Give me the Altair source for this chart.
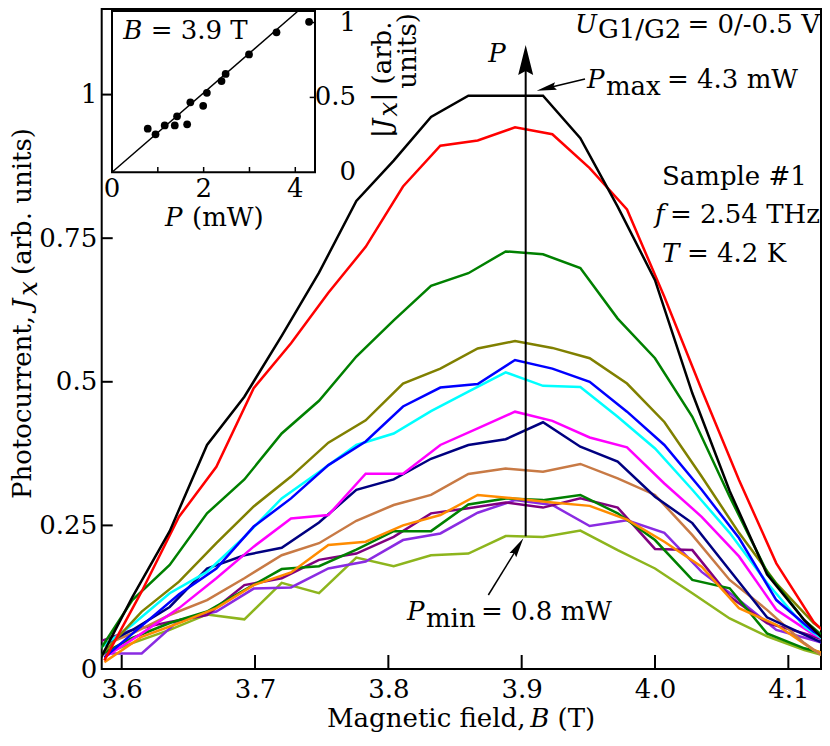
import altair as alt
import pandas as pd

FONT = "DejaVu Serif"
FS = 26

# ---------------- data ----------------
GRID_A = [3.580, 3.608, 3.636, 3.664, 3.692, 3.720, 3.748, 3.776, 3.804, 3.832, 3.860,
          3.888, 3.916, 3.944, 3.972, 4.000, 4.028, 4.056, 4.084, 4.112, 4.140]
GRID_B = [3.587, 3.615, 3.643, 3.671, 3.699, 3.727, 3.755, 3.783, 3.811, 3.839, 3.867,
          3.895, 3.923, 3.951, 3.979, 4.007, 4.035, 4.063, 4.091, 4.119, 4.147]

J_YGREEN = [0.02, 0.045, 0.068, 0.095, 0.0865, 0.15, 0.132, 0.194, 0.179, 0.198, 0.201, 0.2315, 0.23, 0.241, 0.207, 0.175, 0.132, 0.088, 0.057, 0.033, 0.015]
J_VIOLET = [0.027, 0.027, 0.085, 0.1, 0.14, 0.142, 0.175, 0.187, 0.2245, 0.236, 0.272, 0.294, 0.2855, 0.249, 0.259, 0.237, 0.169, 0.12, 0.068, 0.05, 0.03]
J_PURPLE = [0.045, 0.068, 0.082, 0.094, 0.146, 0.158, 0.19, 0.201, 0.23, 0.271, 0.28, 0.29, 0.281, 0.297, 0.281, 0.209, 0.207, 0.126, 0.08, 0.062, 0.04]
J_GREEN2 = [0.02, 0.054, 0.08, 0.10, 0.1375, 0.174, 0.179, 0.208, 0.24, 0.24, 0.2865, 0.297, 0.294, 0.303, 0.271, 0.2245, 0.155, 0.1405, 0.062, 0.036, 0.02]
J_ORANGE = [0.012, 0.056, 0.08, 0.106, 0.146, 0.168, 0.216, 0.2215, 0.25, 0.268, 0.303, 0.297, 0.29, 0.284, 0.26, 0.2215, 0.178, 0.106, 0.077, 0.033, 0.01]
J_BROWN = [0.035, 0.062, 0.094, 0.12, 0.158, 0.198, 0.219, 0.258, 0.2855, 0.303, 0.3395, 0.349, 0.3435, 0.357, 0.332, 0.303, 0.233, 0.155, 0.103, 0.045, 0.0]
J_NAVY = [0.035, 0.068, 0.108, 0.175, 0.198, 0.211, 0.255, 0.312, 0.33, 0.366, 0.39, 0.40, 0.4295, 0.387, 0.361, 0.30, 0.254, 0.172, 0.09, 0.06, 0.03]
J_MAGENTA = [0.02, 0.062, 0.106, 0.158, 0.213, 0.262, 0.268, 0.34, 0.34, 0.39, 0.419, 0.448, 0.432, 0.403, 0.386, 0.323, 0.265, 0.196, 0.103, 0.06, 0.03]
J_CYAN = [0.03, 0.077, 0.132, 0.169, 0.23, 0.297, 0.343, 0.39, 0.41, 0.449, 0.483, 0.5165, 0.493, 0.491, 0.439, 0.384, 0.312, 0.237, 0.15, 0.074, 0.03]
J_BLUE = [0.02, 0.075, 0.13, 0.175, 0.248, 0.297, 0.355, 0.396, 0.457, 0.49, 0.496, 0.538, 0.523, 0.50, 0.448, 0.39, 0.312, 0.228, 0.12, 0.065, 0.03]
J_OLIVE = [0.03, 0.10, 0.152, 0.219, 0.283, 0.335, 0.394, 0.433, 0.497, 0.523, 0.558, 0.571, 0.559, 0.541, 0.497, 0.43, 0.335, 0.237, 0.149, 0.08, 0.03]
J_GREEN = [0.02, 0.12, 0.181, 0.271, 0.33, 0.41, 0.467, 0.544, 0.607, 0.667, 0.689, 0.727, 0.722, 0.698, 0.61, 0.541, 0.439, 0.30, 0.169, 0.085, 0.03]
J_RED = [0.015, 0.135, 0.265, 0.352, 0.489, 0.567, 0.655, 0.735, 0.84, 0.911, 0.92, 0.943, 0.931, 0.872, 0.80, 0.648, 0.486, 0.329, 0.184, 0.082, 0.02]
J_BLACK = [0.0, 0.125, 0.24, 0.39, 0.474, 0.58, 0.69, 0.815, 0.885, 0.961, 0.998, 0.998, 0.998, 0.924, 0.805, 0.677, 0.48, 0.31, 0.165, 0.085, 0.02]

SERIES = ["ygreen", "violet", "purple", "green2", "orange", "brown", "navy",
          "magenta", "cyan", "blue", "olive", "green", "red", "black"]
COLORS = ["#8db51d", "#8a2be2", "#800080", "#008000", "#ff8c00", "#c87a45", "#000080",
          "#ff00ff", "#00ffff", "#0000ff", "#808000", "#008000", "#ff0000", "#000000"]
GRIDS = [GRID_A, GRID_B, GRID_A, GRID_A, GRID_B, GRID_A, GRID_A,
         GRID_B, GRID_A, GRID_B, GRID_B, GRID_A, GRID_B, GRID_A]
VALUES = [J_YGREEN, J_VIOLET, J_PURPLE, J_GREEN2, J_ORANGE, J_BROWN, J_NAVY,
          J_MAGENTA, J_CYAN, J_BLUE, J_OLIVE, J_GREEN, J_RED, J_BLACK]

X_TICKS = [3.6, 3.7, 3.8, 3.9, 4.0, 4.1]
Y_TICKS = [0, 0.25, 0.5, 0.75, 1]

# inset data
P_INSET = [0.78, 0.95, 1.15, 1.37, 1.42, 1.64, 1.71, 1.99, 2.07, 2.39, 2.48, 2.99, 3.59, 4.30]
J_INSET = [0.291, 0.254, 0.313, 0.313, 0.374, 0.32, 0.467, 0.444, 0.531, 0.609, 0.657, 0.787, 0.935, 1.005]
FIT_P = [0.0, 4.06]
FIT_J = [0.0, 1.077]
INSET_X_TICKS = [0, 2, 4]
INSET_Y_TICKS = [0, 0.5, 1]

rows = []
for name, grid, vals in zip(SERIES, GRIDS, VALUES):
    for b, j in zip(grid, vals):
        rows.append({"series": name, "B": b, "J": j})
df = pd.DataFrame(rows)

# ---------------- layout ----------------
W, H = 719.3, 660
xs = alt.Scale(domain=[3.585, 4.1245], nice=False, zero=False)
ys = alt.Scale(domain=[0, 1.149], nice=False, zero=False)

lines = alt.Chart(df).mark_line(strokeWidth=2.5, clip=True).encode(
    x=alt.X("B:Q", scale=xs, axis=alt.Axis(values=X_TICKS, format=".1f", title=None,
            ticks=False, domain=False, grid=False, labelFont=FONT, labelFontSize=FS,
            labelColor="black", labelPadding=7)),
    y=alt.Y("J:Q", scale=ys, axis=alt.Axis(values=Y_TICKS, labelExpr="'' + datum.value",
            title=None, ticks=False, domain=False, grid=False, labelFont=FONT,
            labelFontSize=FS, labelColor="black", labelPadding=5)),
    color=alt.Color("series:N", scale=alt.Scale(domain=SERIES, range=COLORS), legend=None),
    detail="series:N",
)

xt = alt.Chart(pd.DataFrame({"B": X_TICKS})).mark_rule(strokeWidth=2, color="black").encode(
    x=alt.X("B:Q", scale=xs), y=alt.value(H), y2=alt.value(H - 14))
yt = alt.Chart(pd.DataFrame({"J": Y_TICKS[1:]})).mark_rule(strokeWidth=2, color="black").encode(
    y=alt.Y("J:Q", scale=ys), x=alt.value(0), x2=alt.value(11))

# arrows
vert = alt.Chart(pd.DataFrame({"B": [3.903], "J1": [0.231], "J2": [1.045]})).mark_rule(
    strokeWidth=2, color="black").encode(x=alt.X("B:Q", scale=xs), y=alt.Y("J1:Q", scale=ys), y2="J2:Q")
slant = alt.Chart(pd.DataFrame({"B1": [3.9475, 3.875], "J1": [1.0272, 0.1288],
                                "B2": [3.9209, 3.896], "J2": [1.0122, 0.2079]})).mark_rule(
    strokeWidth=1.5, color="black").encode(x=alt.X("B1:Q", scale=xs), x2="B2:Q",
                                           y=alt.Y("J1:Q", scale=ys), y2="J2:Q")
HEAD_BIG = "M0,-1L0.375,0.5L0,0.3L-0.375,0.5Z"
HEAD_SMALL = "M0,-1L0.3,0.5L0,0.3L-0.3,0.5Z"
head1 = alt.Chart(pd.DataFrame({"B": [3.903], "J": [1.0515]})).mark_point(
    shape=HEAD_BIG, filled=True, size=1600, color="black", opacity=1).encode(
    x=alt.X("B:Q", scale=xs), y=alt.Y("J:Q", scale=ys))
head2 = alt.Chart(pd.DataFrame({"B": [3.9209, 3.896], "J": [1.0122, 0.2079], "ang": [256, 32]})).mark_point(
    shape=HEAD_SMALL, filled=True, size=700, color="black", opacity=1).encode(
    x=alt.X("B:Q", scale=xs), y=alt.Y("J:Q", scale=ys), angle=alt.Angle("ang:Q", scale=None))


def dtext(rows_, align="left", italic=False, baseline="alphabetic"):
    d = pd.DataFrame(rows_, columns=["B", "J", "t"])
    return alt.Chart(d).mark_text(font=FONT, fontSize=FS, align=align, baseline=baseline,
                                  fontStyle="italic" if italic else "normal", color="black").encode(
        x=alt.X("B:Q", scale=xs), y=alt.Y("J:Q", scale=ys), text="t:N")


t_norm = dtext([(4.009, 1.0115, "= 4.3 mW"), (3.9632, 0.9993, "max"),
                (3.9572, 1.0985, "G1/G2"), (4.0052, 0.8426, "Sample #1"),
                (3.8282, 0.0731, "min"), (3.8695, 0.0853, "= 0.8 mW"),
                (4.0112, 0.776, "= 2.54 THz"), (4.024, 0.708, "= 4.2 K")])
t_right = dtext([(4.1237, 1.1072, "= 0/-0.5 V")], align="right")
t_ital = dtext([(3.940, 1.1072, "U"), (3.949, 1.0115, "P"), (4.0, 0.776, "f"),
                (4.0052, 0.708, "T"), (3.814, 0.0853, "P")], italic=True)
t_ital_c = dtext([(3.8815, 1.0568, "P")], italic=True, align="center")


def ptext(t, x, y, align="left", italic=False, angle=0, baseline="alphabetic", size=FS, font=FONT):
    return alt.Chart(pd.DataFrame({"t": [t]})).mark_text(
        font=font, fontSize=size, align=align, baseline=baseline, angle=angle,
        fontStyle="italic" if italic else "normal", color="black").encode(
        x=alt.value(x), y=alt.value(y), text="t:N")


# axis titles (positions in plot pixels)
xtitle = [ptext("Magnetic field,", 225.3, 718),
          ptext("B", 428.6, 718, italic=True),
          ptext("(T)", 455.9, 718)]
ytitle = [ptext("Photocurrent,", -79, 490, angle=270, baseline="middle"),
          ptext("J", -79, 300, angle=270, baseline="middle", italic=True),
          ptext("x", -73, 286.7, angle=270, baseline="middle", italic=True),
          ptext("(arb. units)", -79, 119, angle=270, baseline="middle", align="right")]

main = alt.layer(lines, xt, yt, vert, slant, head1, head2, t_norm, t_right, t_ital, t_ital_c,
                 *xtitle, *ytitle)

# ---------------- inset ----------------
isx = alt.Scale(domain=[0, 4.43], range=[10.3, 213.3], nice=False, zero=False)
isy = alt.Scale(domain=[0, 1.077], range=[163.3, 2], nice=False, zero=False)
NOAX = None

frame = alt.Chart(pd.DataFrame({"P0": [0], "P1": [4.43], "J0": [0], "J1": [1.077]})).mark_rect(
    fill="white", stroke="black", strokeWidth=2).encode(
    x=alt.X("P0:Q", scale=isx, axis=NOAX), x2="P1:Q",
    y=alt.Y("J0:Q", scale=isy, axis=NOAX), y2="J1:Q")
fit = alt.Chart(pd.DataFrame({"P": FIT_P, "J": FIT_J})).mark_line(strokeWidth=1.5, color="black").encode(
    x=alt.X("P:Q", scale=isx, axis=NOAX), y=alt.Y("J:Q", scale=isy, axis=NOAX))
pts = alt.Chart(pd.DataFrame({"P": P_INSET, "J": J_INSET})).mark_circle(
    size=60, color="black", opacity=1).encode(
    x=alt.X("P:Q", scale=isx, axis=NOAX), y=alt.Y("J:Q", scale=isy, axis=NOAX))
ixt = alt.Chart(pd.DataFrame({"P": [1, 2, 3, 4]})).mark_rule(strokeWidth=1.5, color="black").encode(
    x=alt.X("P:Q", scale=isx, axis=NOAX), y=alt.value(163.3), y2=alt.value(158))
iyt = alt.Chart(pd.DataFrame({"J": [0.5, 1]})).mark_rule(strokeWidth=1.5, color="black").encode(
    y=alt.Y("J:Q", scale=isy, axis=NOAX), x=alt.value(213.3), x2=alt.value(208))
ixl = alt.Chart(pd.DataFrame({"P": INSET_X_TICKS})).mark_text(
    font=FONT, fontSize=FS, align="center", baseline="alphabetic", color="black").encode(
    x=alt.X("P:Q", scale=isx, axis=NOAX), y=alt.value(188), text=alt.Text("P:Q", format="d"))
iyl = alt.Chart(pd.DataFrame({"J": INSET_Y_TICKS, "t": ["0", "0.5", "1"]})).mark_text(
    font=FONT, fontSize=FS, align="right", baseline="middle", color="black").encode(
    y=alt.Y("J:Q", scale=isy, axis=NOAX), x=alt.value(254.3), text="t:N")


def itext(rows_, italic=False, align="left"):
    d = pd.DataFrame(rows_, columns=["P", "J", "t"])
    return alt.Chart(d).mark_text(font=FONT, fontSize=FS, align=align, baseline="alphabetic",
                                  fontStyle="italic" if italic else "normal", color="black").encode(
        x=alt.X("P:Q", scale=isx, axis=NOAX), y=alt.Y("J:Q", scale=isy, axis=NOAX), text="t:N")


ib1 = itext([(0.247, 0.888, "B")], italic=True)
ib2 = itext([(0.843, 0.888, "= 3.9 T")])
ipx = [ptext("P", 63.3, 217, italic=True), ptext("(mW)", 90.3, 217)]
iyt_t = [ptext("|", 281.3, 129, angle=270, baseline="middle"),
         ptext("J", 281.3, 120, angle=270, baseline="middle", italic=True),
         ptext("x", 287.3, 107.5, angle=270, baseline="middle", italic=True),
         ptext("| (arb.", 281.3, 92.5, angle=270, baseline="middle"),
         ptext("units)", 306.3, 4, angle=270, baseline="middle", align="right")]

inset = alt.layer(frame, fit, pts, ixt, iyt, ixl, iyl, ib1, ib2, *ipx, *iyt_t)

chart = alt.layer(main, inset).resolve_scale(x="independent", y="independent").properties(
    width=W, height=H,
    padding={"left": 93.7, "top": 1, "right": 1, "bottom": 66},
    autosize=alt.AutoSizeParams(type="none"),
    background="white",
).configure_view(stroke="black", strokeWidth=2)

chart.save("out.html", embed_options={"renderer": "svg", "actions": False})
